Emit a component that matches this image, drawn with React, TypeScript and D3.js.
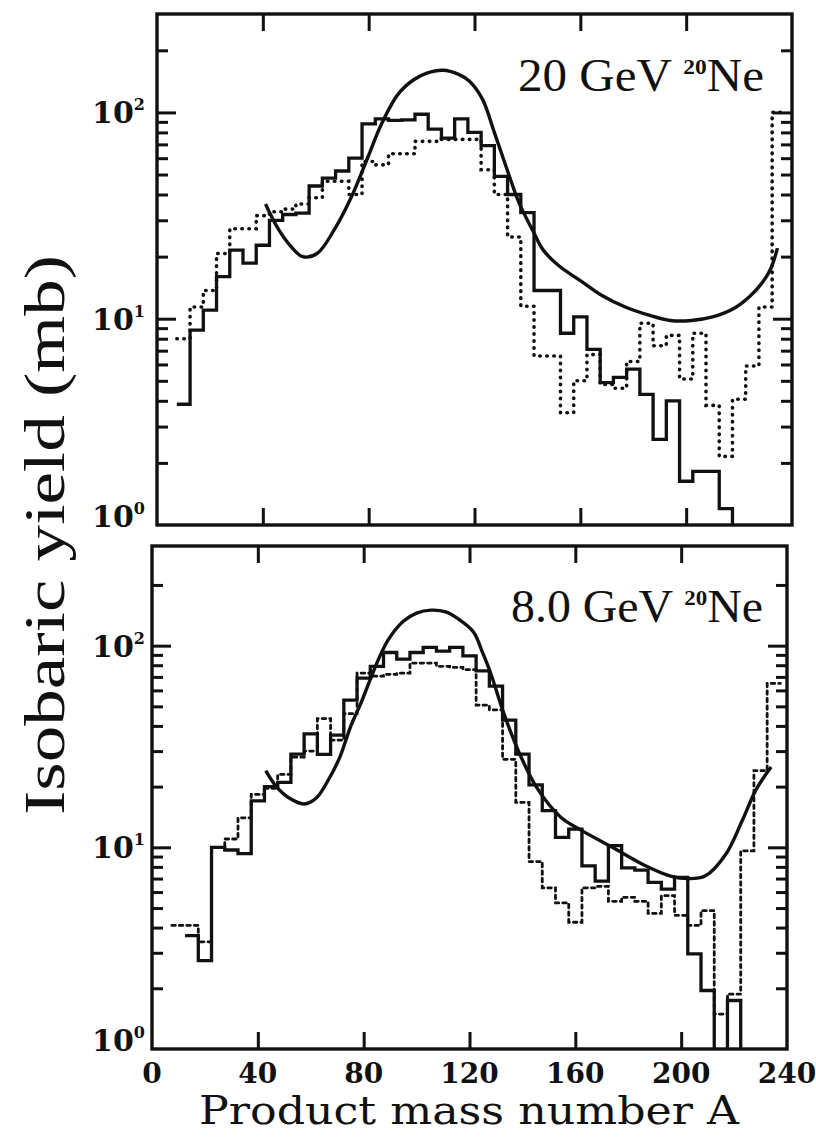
import * as d3 from "d3";
import { useEffect, useRef } from "react";

// product mass number A, bin centres (each bin is 5 units wide)
const massBins = [
  10, 15, 20, 25, 30, 35, 40, 45, 50, 55, 60, 65, 70, 75, 80, 85, 90, 95, 100, 105, 110, 115, 120,
  125, 130, 135, 140, 145, 150, 155, 160, 165, 170, 175, 180, 185, 190, 195, 200, 205, 210, 215,
  220, 225, 230, 235,
];

// 20 GeV 20Ne, isobaric yields (mb)
const ne20Solid = [
  3.85, 8.8, 11, 16, 21.5, 18.6, 22.7, 30, 32, 32.5, 44, 48, 52, 60, 88, 93, 91.5, 92, 98, 83, 75,
  93, 80, 69, 49, 40, 32.7, 13.7, 13.7, 8.5, 10.2, 7.1, 4.9, 5.2, 5.7, 4.3, 2.6, 4.0, 1.63, 1.82,
  1.82, 1.2, null, null, null, null,
];
const ne20Dotted = [
  8.0, 11.4, 13.7, 20.7, 27.3, 27.3, 31.6, 33, 34, 36, 38.6, 46.4, 46.4, 40, 57.8, 55.7, 63, 63,
  72.4, 72.4, 74, 74, 74, 52.7, 40, 24.9, 11.5, 6.6, 6.6, 3.5, 5.0, 6.7, 4.8, 4.6, 6.2, 9.5, 7.4,
  8.3, 5.1, 8.5, 3.8, 2.15, 4.07, 5.9, 11.4, 100,
];
const ne20CalcA = [
  41, 46, 50.5, 55, 60.5, 67, 73.5, 80, 84.5, 91, 97, 102, 108, 114, 118, 123, 127.5, 132.5, 137,
  142, 146, 152, 160, 168, 177, 186, 194, 202, 210, 218, 224, 229, 232, 234.5,
];
const ne20CalcY = [
  36, 27, 22.5, 20, 20.7, 27, 39, 62, 86, 122, 144, 155, 160, 153, 142, 116, 80, 52, 36, 26.8,
  21.5, 18, 15.3, 13, 11.4, 10.4, 9.8, 9.8, 10.2, 11.2, 12.8, 15.1, 17.5, 22,
];

// 8.0 GeV 20Ne
const ne8Solid = [
  null, 3.65, 2.74, 10, 9.7, 9.3, 17, 20, 21, 29, 36.5, 28.9, 36, 53.7, 69, 79, 92.5, 85.7, 92.5,
  98, 94, 98, 89, 75, 63, 42.7, 29, 20.4, 15.2, 11.2, 12.3, 8.1, 6.8, 10.2, 7.9, 7.7, 6.7, 6.2,
  7.1, 2.96, 1.95, 0.5, 1.74, null, null, null,
];
const ne8Dotted = [
  4.1, 4.1, 3.4, 10, 11, 14, 18.3, 19.6, 23, 28, 30, 43.5, 34, 46, 73, 70.6, 72, 73, 82, 82, 79,
  78, 76, 50.7, 48, 27.3, 16.7, 8.5, 6.3, 5.3, 4.25, 6.3, 6.4, 5.4, 5.65, 5.4, 4.7, 5.76, 4.6, 4.1,
  4.85, 1.49, 1.87, 9.6, 24, 65,
];
const ne8CalcA = [
  43, 47, 52, 57.5, 62, 67, 71, 75, 79, 82.5, 86, 89.5, 95, 100, 105.5, 111, 116, 121.5, 125, 128,
  133, 139, 145.5, 154.5, 162.5, 174, 186.5, 196, 202.5, 209, 217, 223, 228, 231, 234,
];
const ne8CalcY = [
  24, 20, 17.5, 16.4, 17.5, 22, 28, 39.5, 52, 68, 88, 108, 132, 145, 150, 147, 135, 117, 92, 73,
  46, 29, 19.7, 14.1, 12.1, 10, 8.1, 7.2, 7.0, 7.2, 9.3, 13.5, 19, 22, 25,
];

const xTicks = [40, 80, 120, 160, 200];
const xLabels = [0, 40, 80, 120, 160, 200, 240];
const yMajor = [10, 100];
const yMinor = [2, 3, 4, 5, 6, 7, 8, 9, 20, 30, 40, 50, 60, 70, 80, 90, 200];
const yLabels = [
  { v: 100, exp: "2" },
  { v: 10, exp: "1" },
  { v: 1, exp: "0" },
];

const panels = [
  {
    left: 157, right: 792, top: 14, bottom: 525, yMax: 300,
    solid: ne20Solid, dotted: ne20Dotted, dash: "0.5 6.5", dotW: 3.6,
    calcA: ne20CalcA, calcY: ne20CalcY, energy: "20 GeV", labelX: 518, labelY: 91, labelW: 246,
  },
  {
    left: 152, right: 787, top: 546, bottom: 1049, yMax: 312,
    solid: ne8Solid, dotted: ne8Dotted, dash: "3.5 4", dotW: 2.8,
    calcA: ne8CalcA, calcY: ne8CalcY, energy: "8.0 GeV", labelX: 511, labelY: 622, labelW: 252,
  },
];

const INK = "#111";

export default function App() {
  const ref = useRef<SVGSVGElement>(null);

  useEffect(() => {
    const svg = d3.select(ref.current);
    svg.selectAll("*").remove();

    panels.forEach((p, idx) => {
      const x = d3.scaleLinear().domain([0, 240]).range([p.left, p.right]);
      const y = d3.scaleLog().domain([1, p.yMax]).range([p.bottom, p.top]);

      const clipId = "clip" + idx;
      svg.append("clipPath").attr("id", clipId)
        .append("rect")
        .attr("x", p.left).attr("y", p.top)
        .attr("width", p.right - p.left).attr("height", p.bottom - p.top);

      const g = svg.append("g").attr("clip-path", `url(#${clipId})`);

      // histogram as step outline, runs split at missing bins
      const steps = (vals: (number | null)[]) => {
        const runs: [number, number][][] = [];
        let cur: [number, number][] | null = null;
        vals.forEach((v, i) => {
          const c = massBins[i];
          if (v == null) {
            if (cur) {
              cur.push([c - 2.5, 0.3]);
              runs.push(cur);
              cur = null;
            }
            return;
          }
          if (!cur) cur = [];
          cur.push([c - 2.5, v], [c + 2.5, v]);
        });
        if (cur) runs.push(cur);
        return runs;
      };

      const line = d3.line<[number, number]>()
        .x((d) => x(d[0]))
        .y((d) => y(Math.max(d[1], 0.3)));

      g.selectAll(".dotted")
        .data(steps(p.dotted))
        .join("path")
        .attr("d", line)
        .attr("fill", "none")
        .attr("stroke", INK)
        .attr("stroke-width", p.dotW)
        .attr("stroke-linecap", "round")
        .attr("stroke-dasharray", p.dash);

      g.selectAll(".solid")
        .data(steps(p.solid))
        .join("path")
        .attr("d", line)
        .attr("fill", "none")
        .attr("stroke", INK)
        .attr("stroke-width", 3.3)
        .attr("stroke-linejoin", "miter");

      const calc = d3.line<number>()
        .x((d) => x(d))
        .y((_, i) => y(p.calcY[i]))
        .curve(d3.curveCatmullRom.alpha(0.5));

      g.append("path")
        .attr("d", calc(p.calcA))
        .attr("fill", "none")
        .attr("stroke", INK)
        .attr("stroke-width", 3.4);

      // ticks, all pointing inward
      const axes = svg.append("g").attr("class", "ticks");
      axes.append("g").attr("transform", `translate(0,${p.bottom})`)
        .call(d3.axisBottom(x).tickValues(xTicks).tickSize(-17).tickFormat(() => ""));
      axes.append("g").attr("transform", `translate(0,${p.top})`)
        .call(d3.axisTop(x).tickValues(xTicks).tickSize(-17).tickFormat(() => ""));
      axes.append("g").attr("transform", `translate(${p.left},0)`)
        .call(d3.axisLeft(y).tickValues(yMajor).tickSize(-19).tickFormat(() => ""));
      axes.append("g").attr("transform", `translate(${p.left},0)`)
        .call(d3.axisLeft(y).tickValues(yMinor).tickSize(-11).tickFormat(() => ""));
      axes.append("g").attr("transform", `translate(${p.right},0)`)
        .call(d3.axisRight(y).tickValues(yMajor).tickSize(-19).tickFormat(() => ""));
      axes.append("g").attr("transform", `translate(${p.right},0)`)
        .call(d3.axisRight(y).tickValues(yMinor).tickSize(-11).tickFormat(() => ""));
      axes.selectAll(".domain").remove();
      axes.selectAll("line").attr("stroke", INK).attr("stroke-width", 3);

      svg.append("rect")
        .attr("x", p.left).attr("y", p.top)
        .attr("width", p.right - p.left).attr("height", p.bottom - p.top)
        .attr("fill", "none").attr("stroke", INK).attr("stroke-width", 3.4);

      // y tick labels 10^n
      yLabels.forEach((l) => {
        const t = svg.append("text")
          .attr("x", 145)
          .attr("y", y(l.v) + (l.v === 1 ? 2 : 11))
          .attr("text-anchor", "end")
          .attr("font-family", "DejaVu Serif")
          .attr("font-weight", "bold")
          .attr("font-size", 30)
          .attr("fill", INK);
        t.append("tspan").text("10");
        t.append("tspan").attr("dy", -13).attr("font-size", 16).text(l.exp);
      });

      // energy label
      const lab = svg.append("text")
        .attr("x", p.labelX).attr("y", p.labelY)
        .attr("font-family", "Liberation Serif")
        .attr("font-size", 46)
        .attr("textLength", p.labelW)
        .attr("lengthAdjust", "spacingAndGlyphs")
        .attr("fill", INK);
      lab.append("tspan").text(p.energy + " ");
      lab.append("tspan").attr("dy", -17).attr("font-size", 22).attr("font-weight", "bold").text("20");
      lab.append("tspan").attr("dy", 17).text("Ne");

      if (idx === 1) {
        svg.append("g").selectAll("text")
          .data(xLabels)
          .join("text")
          .attr("x", (d) => x(d))
          .attr("y", 1083)
          .attr("text-anchor", "middle")
          .attr("font-family", "DejaVu Serif")
          .attr("font-weight", "bold")
          .attr("font-size", 28)
          .attr("fill", INK)
          .text((d) => d);
      }
    });

    svg.append("text")
      .attr("x", 469).attr("y", 1124)
      .attr("text-anchor", "middle")
      .attr("font-family", "DejaVu Serif")
      .attr("font-size", 40)
      .attr("textLength", 540)
      .attr("lengthAdjust", "spacingAndGlyphs")
      .attr("fill", INK)
      .text("Product mass number A");

    svg.append("text")
      .attr("transform", "translate(64,535) rotate(-90)")
      .attr("text-anchor", "middle")
      .attr("font-family", "Liberation Serif")
      .attr("font-size", 58)
      .attr("textLength", 560)
      .attr("lengthAdjust", "spacingAndGlyphs")
      .attr("fill", INK)
      .text("Isobaric yield (mb)");
  }, []);

  return (
    <svg
      ref={ref}
      width={816}
      height={1138}
      style={{ position: "absolute", left: 0, top: 0, background: "#fff" }}
    />
  );
}
